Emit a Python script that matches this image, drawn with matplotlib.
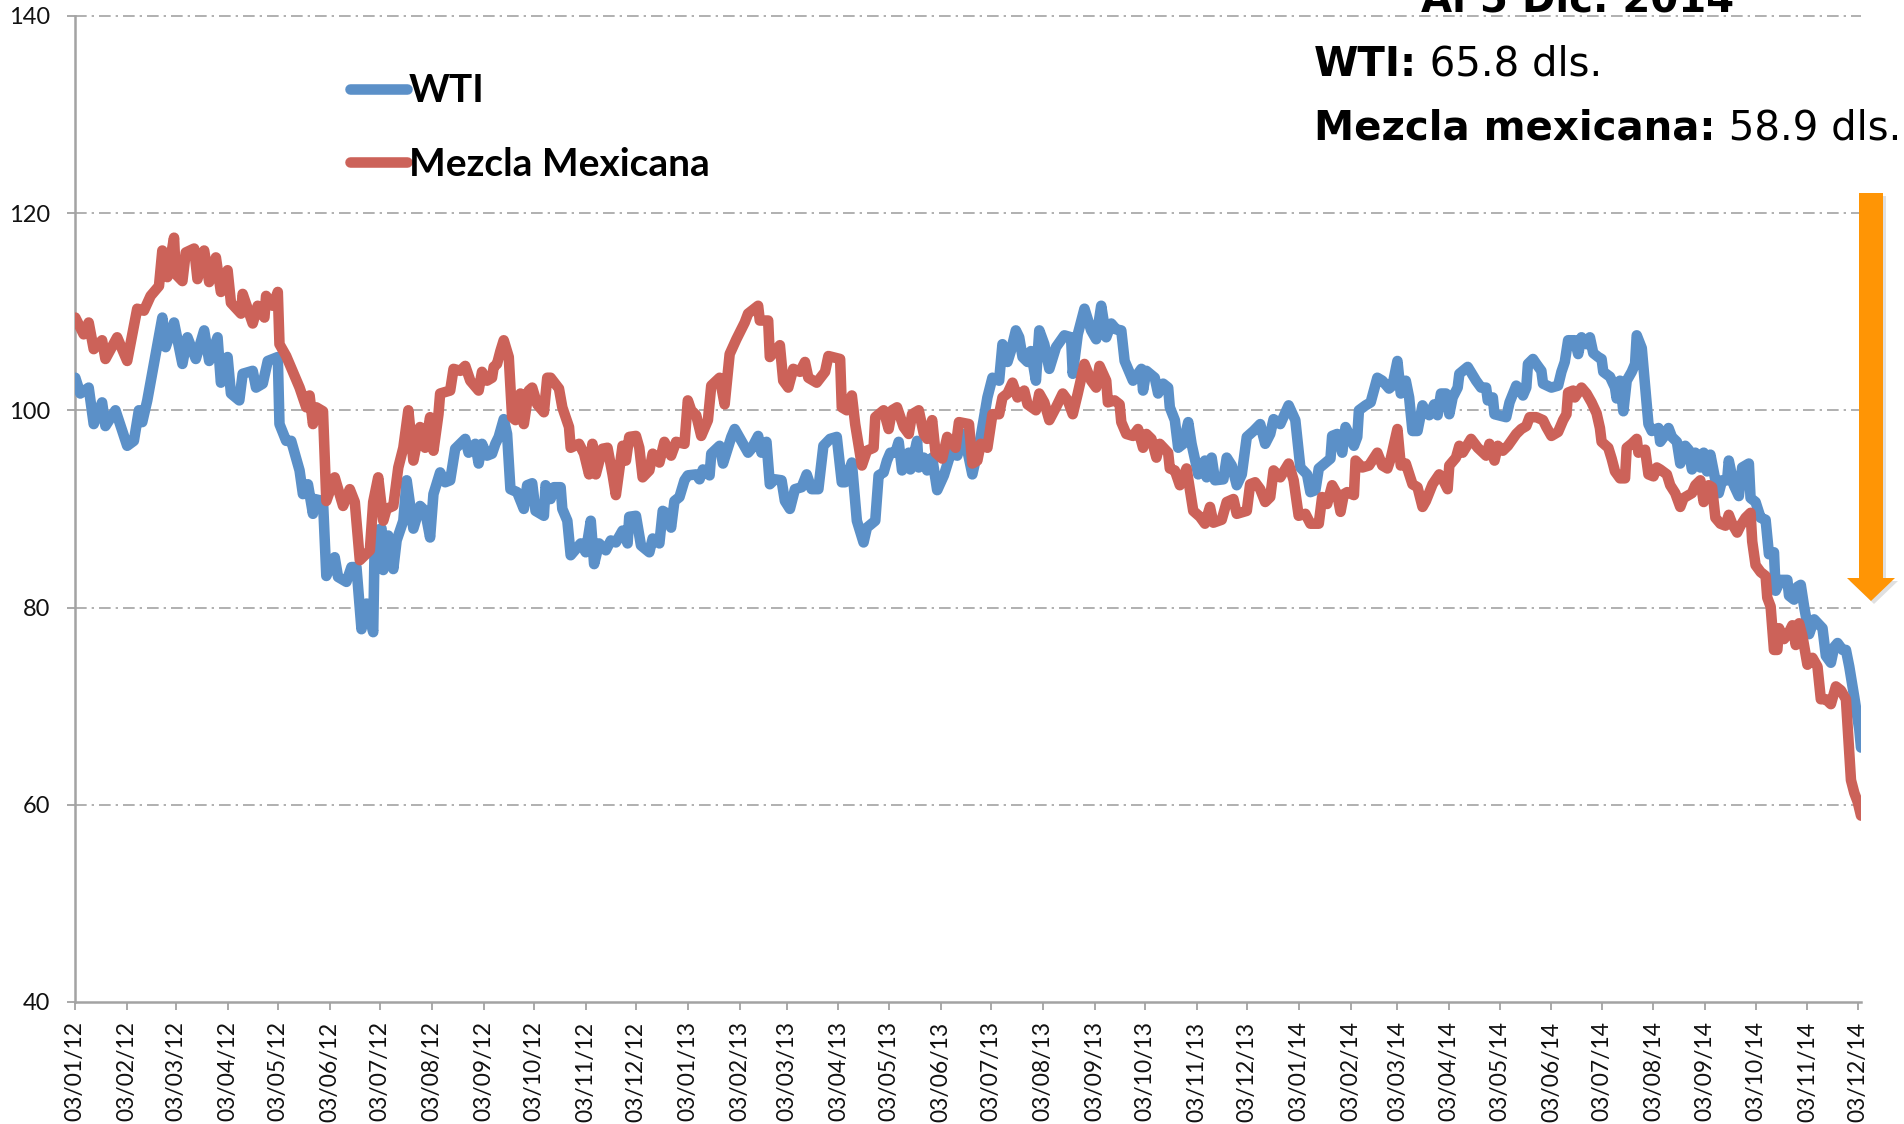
import matplotlib
matplotlib.use('Agg')

import numpy as np
import pandas as pd
import matplotlib.pyplot as plt
import matplotlib.dates as mdates
from matplotlib.patches import Polygon

# precios diarios del petroleo (dolares por barril), dias contados desde 03/01/2012
start = pd.Timestamp('2012-01-03')

wti_days = [0, 3, 8, 11, 16, 18, 24, 31, 35, 38, 40, 43, 52, 54, 59, 64, 67, 72, 77, 80,
            85, 87, 91, 93, 98, 100, 106, 108, 112, 115, 121, 122, 126, 129, 134, 136, 139, 142, 143, 148,
            150, 155, 157, 162, 165, 168, 171, 174, 178,
            179, 183, 184, 187, 190, 192, 196, 198, 202, 206, 209, 212, 214, 218, 221, 224, 227, 233, 235, 239,
            241, 243, 246, 249, 251, 253, 256, 258, 260, 264, 268, 270, 273, 275, 280, 281, 284, 286, 290, 291,
            294, 296, 302, 305, 308, 310, 313, 317, 320, 323, 327, 330, 331, 335, 338, 343, 345,
            349, 351, 354, 356, 358, 361, 364, 366, 371, 373, 375, 379, 380, 385, 387, 392, 394, 402, 404, 408,
            410, 413, 415, 418, 422, 424, 427, 430, 434, 437, 440, 444, 447, 451, 455, 458, 460, 464, 467, 471,
            473, 478, 480, 483, 485, 487, 490, 492, 494, 498, 499, 503, 504, 507, 509, 512, 515, 519, 523, 527,
            531, 536,
            541, 545, 548, 552, 554, 557, 559, 562, 564, 566, 569, 571, 574, 576, 579, 582, 586, 591, 595, 596,
            599, 603, 607, 610, 613, 616, 619, 622, 625, 627, 632, 637, 638, 640, 645, 647, 650, 653, 654, 657,
            659, 662, 665, 667, 671, 675, 676, 679, 681, 686, 688, 691, 694, 697, 700, 704,
            708, 711, 714, 716, 720, 725, 729, 732, 736, 738, 741, 743, 750, 751, 754, 757, 759, 761, 764, 766,
            767, 771, 774, 778, 781, 785, 787, 790, 792, 795, 797, 799, 802, 805, 807, 809, 812, 814, 816, 819,
            821, 823, 826, 827, 832, 837, 840, 843, 844, 847, 848, 855, 857, 861, 863, 865, 867, 868, 871, 873,
            876, 877, 882, 886, 888, 890, 892, 896, 898,
            900, 903, 905, 907, 910, 912, 913, 917, 920, 921, 923, 925, 927, 930, 932, 933, 936, 938, 940, 942,
            946, 947, 950, 952, 954, 957, 959, 962, 964, 966, 968, 971, 973, 975, 977, 980, 982, 984, 987, 988,
            991, 994, 996, 1000, 1001, 1004, 1007, 1010, 1012, 1015, 1016, 1019, 1023, 1024, 1027, 1029, 1031,
            1033, 1036, 1039, 1044, 1046, 1049, 1051, 1053, 1056, 1058, 1060, 1063, 1066, 1067]
wti_usd = [103.3, 101.7, 102.3, 98.6, 100.8, 98.4, 100, 96.4, 96.9, 100, 98.8, 101, 109.4, 106.4, 108.9, 104.7, 107.4, 105.2, 108.1, 105,
           107.4, 102.8, 105.4, 101.7, 101, 103.7, 104, 102.3, 102.7, 105, 105.4, 98.6, 96.9, 96.9, 93.9, 91.5, 92.5, 89.5, 91, 90.8,
           83.2, 85.1, 83.1, 82.6, 84.1, 84.1, 77.8, 80.4, 77.5,
           87.8, 88, 83.8, 87.3, 83.9, 86.8, 88.8, 92.9, 88, 90.3, 89.8, 87.1, 91.5, 93.7, 92.7, 92.9, 96.1, 97.1, 95.7, 96.6,
           94.6, 96.6, 95.4, 95.6, 96.6, 97.3, 99.1, 97.6, 92, 91.7, 90, 92.4, 92.6, 89.8, 89.3, 92.4, 91, 92.2, 92.2, 90,
           88.8, 85.3, 86.5, 85.6, 88.8, 84.4, 86.5, 85.8, 86.8, 86.6, 87.8, 86.5, 89.2, 89.3, 86.3, 85.6, 87,
           86.5, 89.8, 89.5, 88.1, 90.8, 91.2, 92.9, 93.4, 93.5, 93, 94, 93.4, 95.6, 96.4, 94.6, 97.3, 98.1, 95.7, 96.1, 97.4,
           95.7, 96.8, 92.5, 93, 92.9, 90.8, 90, 92, 92.2, 93.5, 92, 92, 96.4, 97.1, 97.3, 92.7, 92.7, 94.7, 88.8, 86.6,
           88.1, 88.8, 93.4, 93.7, 94.9, 95.7, 95.7, 96.8, 93.9, 95.7, 94, 96.9, 94.2, 95.2, 93.9, 95.2, 91.9, 93.4, 95.6, 95.4,
           97.6, 93.5,
           97.3, 101.3, 103.3, 103, 106.7, 104.9, 106, 108.1, 107.4, 105.4, 104.9, 106, 103, 108.1, 106.7, 104.2, 106.4, 107.6, 107.4, 103.7,
           107.7, 110.3, 108.1, 107.2, 110.6, 107.4, 108.8, 108.2, 108.1, 105, 103, 104.2, 102, 104, 103.3, 101.7, 102.7, 102.3, 100.3, 99,
           96.2, 96.6, 98.8, 96.6, 93.5, 94.9, 93.2, 95.2, 92.9, 93, 95.2, 94.4, 92.4, 93.5, 97.3, 97.9,
           98.6, 96.6, 97.6, 99.1, 98.6, 100.5, 99, 94.2, 93.5, 91.7, 91.9, 94.1, 95.1, 97.4, 97.6, 95.7, 98.3, 97.6, 96.4, 97.3,
           100, 100.5, 100.8, 103.3, 103, 102.2, 102.5, 105, 101.7, 103, 101.3, 97.9, 97.9, 100.5, 99.8, 99.5, 100.6, 99.5, 101.7, 101.7,
           99.6, 101.3, 102.3, 103.7, 104.4, 103, 102.3, 102.3, 101, 101.3, 99.6, 99.3, 100.8, 102.5, 102.2, 101.5, 102.3, 104.7, 105.2, 104.7,
           104, 102.7, 102.3, 102.5, 103.9, 104.9, 107.1, 107.1, 105.7,
           107.4, 106.7, 107.4, 105.8, 105.4, 105.2, 103.9, 103.4, 102.3, 101.2, 103, 99.9, 103, 103.9, 104.7, 107.6, 106.3, 102.5, 98.6, 97.9,
           98.2, 96.8, 97.5, 98.2, 97.3, 96.8, 94.6, 96.4, 96, 94, 95.7, 94.2, 95.7, 93.8, 95.5, 92.9, 91.6, 92.9, 92.9, 94.9,
           92.4, 91.3, 94.2, 94.6, 91.1, 90.7, 89.1, 88.9, 85.4, 85.6, 81.7, 82.8, 82.8, 81.2, 80.8, 82.1, 82.3,
           80.1, 77.3, 78.8, 77.9, 75.1, 74.4, 76, 76.4, 75.7, 75.7, 74, 70.9, 67.6, 65.8]

mezcla_days = [0, 5, 8, 11, 16, 18, 25, 31, 37, 41, 45, 50, 52, 55, 59, 60, 64, 66, 71, 73,
               77, 80, 84, 87, 91, 93, 99, 100, 106, 109, 113, 114, 118, 121, 122, 126, 134, 138, 140, 142,
               144, 148, 150, 155, 160, 164, 167, 170, 176, 178,
               181, 184, 186, 190, 193, 196, 199, 202, 206, 209, 212, 214, 217, 218, 224, 226, 230, 233, 236, 241,
               243, 246, 249, 250, 252, 254, 256, 259, 261, 263, 266, 268, 271, 273, 276, 280, 282, 284, 289, 291,
               295, 296, 301, 304, 307, 309, 311, 315, 318, 321, 323, 327, 329, 331, 335, 337, 339, 343, 345,
               349, 352, 356, 359, 364, 366, 368, 371, 374, 378, 380, 385, 388, 391, 395, 400, 402, 408, 409, 414,
               415, 421, 423, 426, 429, 433, 436, 438, 443, 448, 450, 457, 458, 461, 464, 466, 470, 473, 477, 478,
               483, 486, 488, 491, 495, 498, 500, 504, 507, 509, 512, 514, 518, 521, 526, 528, 534, 536,
               539, 541, 545, 548, 552, 554, 557, 560, 563, 567, 569, 574, 576, 579, 582, 586, 590, 593, 596, 599,
               603, 607, 610, 612, 616, 617, 621, 624, 625, 628, 632, 635, 638, 640, 643, 646, 648, 653, 654, 657,
               660, 664, 668, 672, 675, 678, 680, 685, 688, 692, 694, 700, 702, 705,
               708, 711, 714, 716, 720, 725, 728, 731, 735, 738, 743, 745, 748, 751, 754, 756, 758, 760, 764, 765,
               769, 773, 778, 781, 784, 786, 790, 792, 795, 799, 802, 805, 807, 811, 815, 818, 820, 821, 825, 827,
               829, 834, 838, 843, 845, 848, 850, 853, 856, 861, 864, 867, 869, 873, 877, 879, 882, 886, 889, 891,
               892, 895, 896,
               900, 903, 906, 909, 911, 912, 916, 918, 920, 923, 926, 927, 930, 933, 934, 938, 940, 943, 945, 947,
               951, 953, 956, 959, 961, 966, 968, 971, 973, 976, 978, 980, 983, 986, 988, 990, 993, 995, 998, 1001,
               1002, 1004, 1007, 1010, 1011, 1013, 1015, 1017, 1018, 1021, 1024, 1026, 1028, 1030, 1032, 1035,
               1038, 1041, 1043, 1046, 1049, 1052, 1055, 1058, 1061, 1063, 1065, 1067]
mezcla_usd = [109.4, 107.7, 108.9, 106.2, 107.1, 105.2, 107.4, 105, 110.3, 110.1, 111.6, 112.6, 116.2, 113.5, 117.5, 113.8, 113.1, 116, 116.4, 113.3,
              116.2, 113, 115.5, 112, 114.2, 110.9, 109.8, 111.8, 108.8, 110.6, 109.4, 111.6, 110.6, 112, 106.7, 105.5, 102.3, 100.3, 101.5, 98.6,
              100.3, 99.9, 90.8, 93.2, 90.3, 92, 90.7, 84.8, 85.8, 90.7,
              93.2, 88.8, 90, 90.3, 94.2, 96.2, 100, 94.9, 98.3, 96.2, 99.3, 95.9, 99.6, 101.7, 102, 104.2, 104, 104.5, 103, 102,
              103.9, 103, 103.3, 104.4, 104.7, 106, 107.1, 105.4, 99.3, 99, 101.7, 98.6, 102, 102.3, 100.6, 99.8, 103.3, 103.3, 102.2, 100.3,
              98.3, 96.2, 96.6, 95.6, 93.5, 96.6, 93.5, 96.1, 96.2, 93.5, 91.4, 96.4, 94.9, 97.3, 97.4, 96.2, 93.2, 93.9, 95.6,
              94.7, 96.8, 95.4, 96.8, 96.6, 101, 100, 99.5, 97.4, 99, 102.5, 103.3, 100.6, 105.7, 107.2, 108.9, 109.8, 110.6, 109.1, 109.1,
              105.4, 106.6, 103, 102.3, 104.2, 103.9, 104.9, 103.3, 102.8, 103.9, 105.5, 105.2, 100.3, 100, 101.5, 98.6, 94.4, 95.9, 96.2, 99.3,
              100, 98.1, 100, 100.3, 98.3, 97.6, 99.6, 100, 97.6, 97.1, 99, 95.7, 95.1, 97.3, 96.2, 98.8, 98.6, 94.6,
              94.9, 96.6, 96.2, 99.6, 99.6, 101.3, 101.7, 102.8, 101.3, 102, 100.6, 100, 101.7, 100.8, 99, 100.3, 101.7, 101, 99.6, 101.7,
              104.7, 103, 102.3, 104.5, 103, 100.8, 101, 100.6, 98.8, 97.6, 97.4, 98.1, 96.2, 97.6, 97.1, 95.2, 96.6, 95.7, 94.1, 93.9,
              92.4, 94.1, 89.8, 89.2, 88.5, 90.2, 88.6, 88.9, 90.7, 91, 89.5, 89.8, 92.5, 92.7,
              92, 90.7, 91.2, 93.9, 93.2, 94.6, 92.9, 89.3, 89.5, 88.5, 88.5, 91.2, 90.5, 92.4, 91.5, 89.7, 91.5, 91.7, 91.4, 94.9,
              94.2, 94.4, 95.7, 94.4, 94.1, 95.1, 98.1, 94.4, 94.6, 92.5, 92.2, 90.2, 90.8, 92.5, 93.5, 92.7, 92, 94.4, 95.2, 96.4,
              95.7, 97.1, 96.2, 95.4, 96.6, 94.9, 96.4, 95.9, 96.4, 97.6, 98.1, 98.4, 99.3, 99.3, 99, 98.3, 97.4, 97.8, 99, 99.6,
              101.8, 102, 101.3,
              102.3, 101.7, 100.8, 99.7, 98.2, 96.8, 96.2, 95.1, 93.8, 93.1, 93.1, 96.2, 96.6, 97.1, 95.7, 96, 93.5, 93.3, 94.2, 94,
              93.5, 92.4, 91.6, 90.2, 91.1, 91.6, 92.4, 92.9, 90.7, 92.4, 92.2, 89.1, 88.5, 88.3, 89.4, 88.5, 87.6, 88.3, 89.1, 89.6,
              86.7, 84.3, 83.6, 83.2, 81, 80.1, 75.7, 75.7, 77.9, 76.8, 77.5, 78.2, 76.2, 78.4, 77.1, 74.2,
              74.9, 74, 70.7, 70.7, 70.2, 72, 71.6, 70.7, 62.5, 61.2, 60.3, 58.9]

series_labels = ['WTI', 'Mezcla Mexicana']
wti_last = 65.8
mezcla_last = 58.9
fecha_corte = 'Al 5 Dic. 2014'

wti_dates = start + pd.to_timedelta(wti_days, unit='D')
mezcla_dates = start + pd.to_timedelta(mezcla_days, unit='D')
month_ticks = pd.date_range('2012-01-01', '2014-12-01', freq='MS') + pd.Timedelta(days=2)

W, H = 1904, 1124
fig = plt.figure(figsize=(W / 100, H / 100), dpi=100)
ax = fig.add_axes([75.3 / W, 1 - 1002 / H, (1861 - 75.3) / W, (1002 - 15.8) / H])

blue = '#5b90c8'
red = '#cc6259'
ax.plot(wti_dates, wti_usd, color=blue, lw=7.6, solid_joinstyle='round', solid_capstyle='round',
        label=series_labels[0], zorder=3)
ax.plot(mezcla_dates, mezcla_usd, color=red, lw=7.6, solid_joinstyle='round', solid_capstyle='round',
        label=series_labels[1], zorder=4)

ax.set_ylim(40, 140)
ax.set_yticks(np.arange(40, 141, 20))
ax.set_xlim(start, start + pd.Timedelta(days=1067))
ax.set_xticks(month_ticks)
ax.xaxis.set_major_formatter(mdates.DateFormatter('%d/%m/%y'))

grid_color = '#a3a3a3'
for v in [60, 80, 100, 120, 140]:
    ax.axhline(v, color=grid_color, lw=1.2, linestyle=(0, (7, 3, 1.4, 3)), zorder=1, clip_on=False)

for side in ['top', 'right']:
    ax.spines[side].set_visible(False)
for side in ['left', 'bottom']:
    ax.spines[side].set_color(grid_color)
    ax.spines[side].set_linewidth(1.8)

for lab in ax.get_xticklabels() + ax.get_yticklabels():
    lab.set_family('Lato')
ax.tick_params(axis='y', direction='out', length=6, width=1.3, color=grid_color, pad=12,
               labelsize=17, labelcolor='#111111')
ax.tick_params(axis='x', direction='out', length=6, width=1.3, color=grid_color, pad=8,
               labelsize=16.5, labelcolor='#111111', labelrotation=90)

leg = ax.legend(loc='upper left', bbox_to_anchor=(331 / W, 1 - 54 / H), bbox_transform=fig.transFigure,
                frameon=False, handlelength=1.45, handletextpad=0.05, labelspacing=0.98, borderpad=0,
                prop={'family': 'Lato', 'weight': 'bold', 'size': 28})

# recuadro con el ultimo dato
note_font = dict(family='DejaVu Sans', fontsize=29)
t1 = fig.text(1314 / W, 1 - 76 / H, 'WTI:', fontweight='bold', va='baseline', **note_font)
ax.annotate(f' {wti_last} dls.', xy=(1, 0), xycoords=t1, va='bottom', ha='left',
            annotation_clip=False, **note_font)
t2 = fig.text(1314 / W, 1 - 140 / H, 'Mezcla mexicana:', fontweight='bold', va='baseline', **note_font)
ax.annotate(f' {mezcla_last} dls.', xy=(1, 0), xycoords=t2, va='bottom', ha='left',
            annotation_clip=False, **note_font)
fig.text(1578 / W, 1 - 11.5 / H, fecha_corte, fontweight='bold', va='baseline', ha='center', **note_font)

# flecha naranja de caida
arrow_px = [(1859, 193), (1883, 193), (1883, 578), (1895, 578), (1871, 601), (1847, 578), (1859, 578)]
shadow = Polygon([((x + 3) / W, 1 - (y + 3) / H) for x, y in arrow_px], closed=True,
                 transform=fig.transFigure, facecolor='#000000', alpha=0.12, lw=0)
arrow = Polygon([(x / W, 1 - y / H) for x, y in arrow_px], closed=True,
                transform=fig.transFigure, facecolor='#ff9505', lw=0)
fig.add_artist(shadow)
fig.add_artist(arrow)

fig.savefig('out.png', dpi=100)
